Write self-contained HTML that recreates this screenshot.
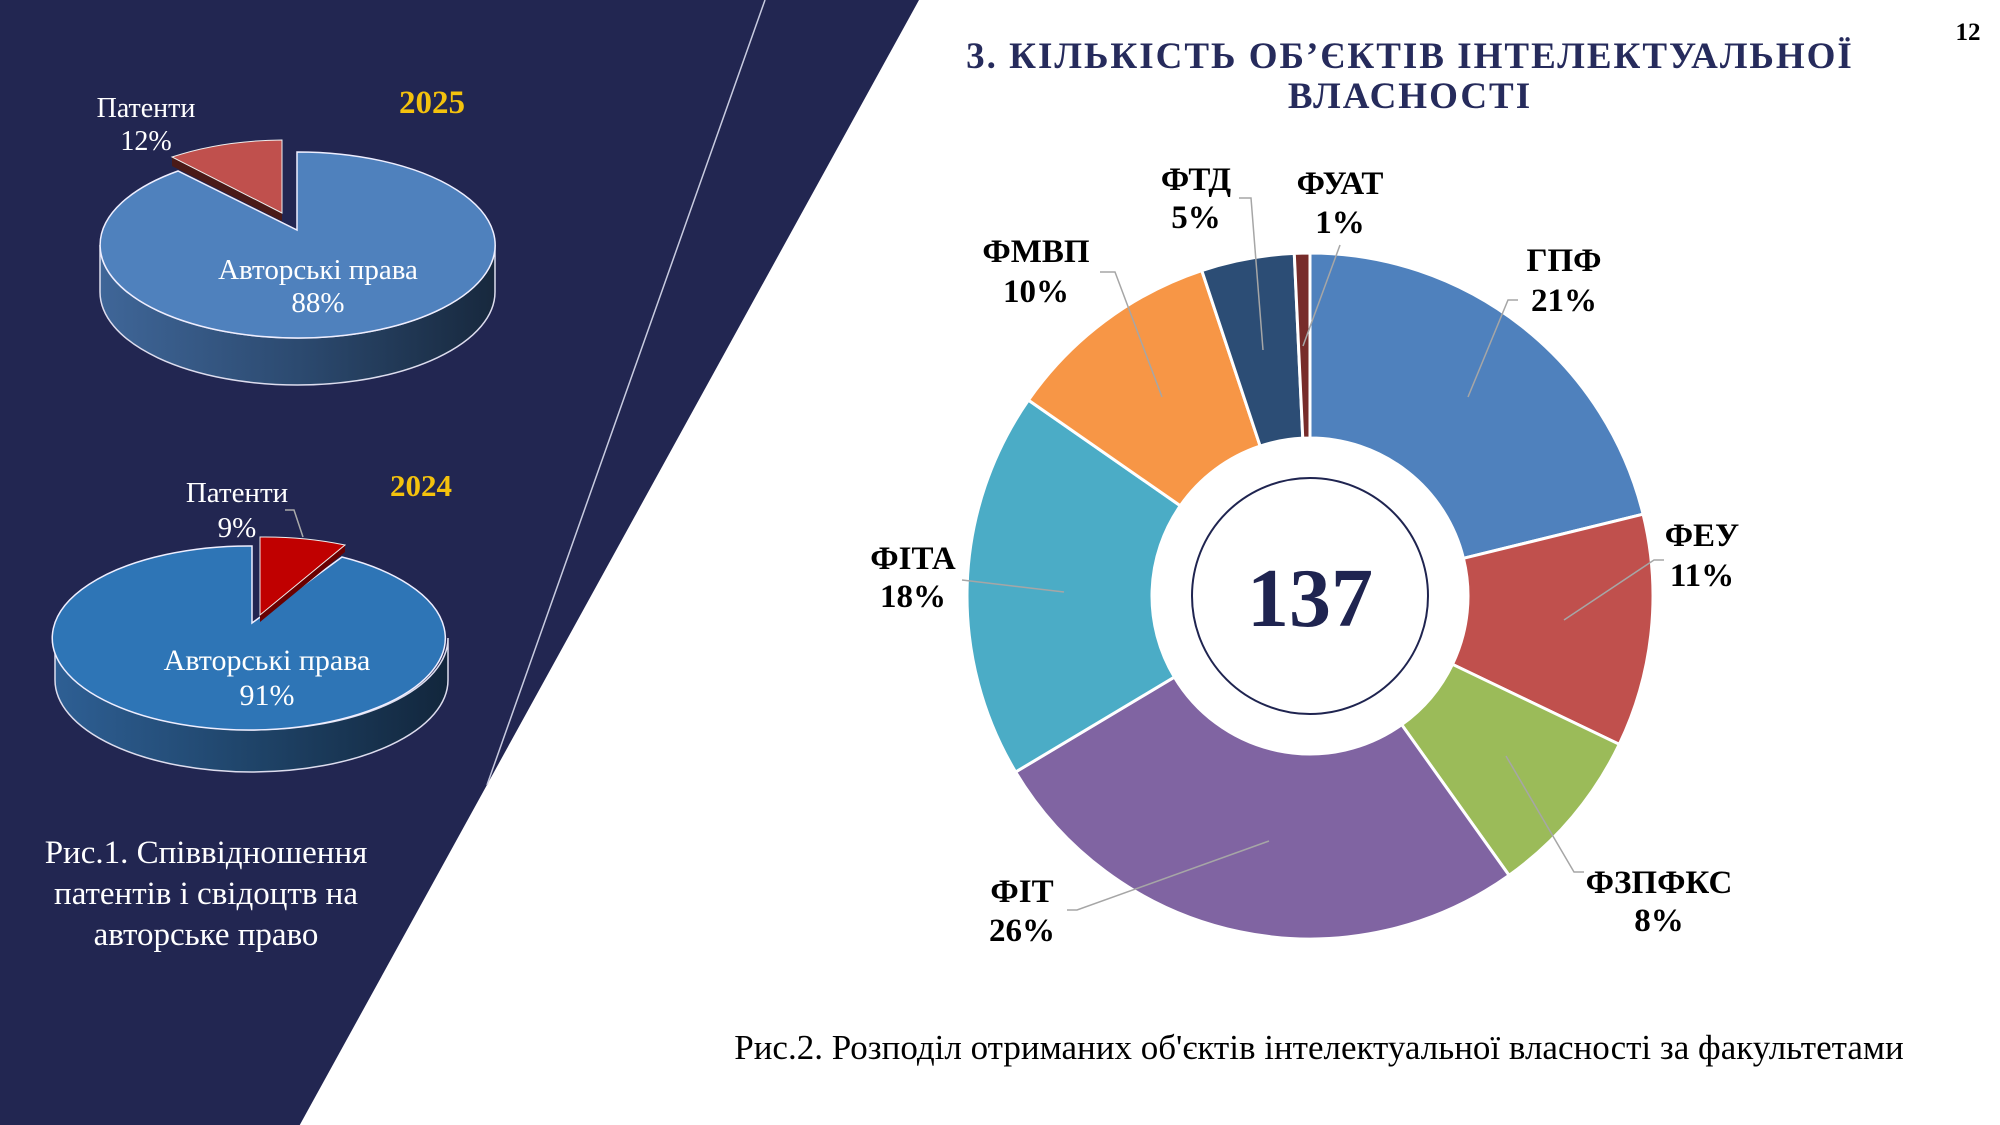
<!DOCTYPE html>
<html><head><meta charset="utf-8"><style>
html,body{margin:0;padding:0;background:#fff;}
body{width:2000px;height:1125px;overflow:hidden;position:relative;font-family:"Liberation Serif",serif;}
svg{position:absolute;left:0;top:0;}
</style></head><body>
<svg width="2000" height="1125" viewBox="0 0 2000 1125" xmlns="http://www.w3.org/2000/svg" font-family="Liberation Serif, serif">
<defs>
<linearGradient id="s1" x1="0" x2="1" y1="0" y2="0"><stop offset="0" stop-color="#3f6698"/><stop offset="0.5" stop-color="#2c4a70"/><stop offset="1" stop-color="#17283d"/></linearGradient>
<linearGradient id="s2" x1="0" x2="1" y1="0" y2="0"><stop offset="0" stop-color="#2e5f94"/><stop offset="0.5" stop-color="#1f4469"/><stop offset="1" stop-color="#12263c"/></linearGradient>
</defs>
<polygon points="0,0 919,0 297,1130 0,1130" fill="#222651"/>
<line x1="765" y1="0" x2="487" y2="785" stroke="#c8cbe0" stroke-width="1.5"/>

<!-- 2025 pie -->
<path d="M100,245 A197.5,93 0 0 0 495,245 L495,292 A197.5,93 0 0 1 100,292 Z" fill="url(#s1)" stroke="#dde" stroke-width="1.5"/>
<path d="M297,230 L297,152 A197.5,93 0 1 1 178,171 Z" fill="#4f81bd" stroke="#eef" stroke-width="1.5"/>
<path d="M172,157 L282,213 L282,221 L172,166 Z" fill="#4a1a18"/>
<path d="M282,213 L172,157 A197.5,93 0 0 1 282,140 Z" fill="#c0504d" stroke="#eee" stroke-width="1"/>
<text x="146" y="117" fill="#fff" font-size="28" text-anchor="middle">Патенти</text>
<text x="146" y="150" fill="#fff" font-size="28" text-anchor="middle">12%</text>
<text x="432" y="113" fill="#f4c20d" font-size="33" font-weight="bold" text-anchor="middle">2025</text>
<text x="318" y="279" fill="#fff" font-size="29" text-anchor="middle">Авторські права</text>
<text x="318" y="312" fill="#fff" font-size="29" text-anchor="middle">88%</text>

<!-- 2024 pie -->
<path d="M55,638 A196.5,92 0 0 0 448,638 L448,680 A196.5,92 0 0 1 55,680 Z" fill="url(#s2)" stroke="#dde" stroke-width="1.5"/>
<path d="M252,623 L342,557 A196.5,92 0 1 1 252,546 Z" fill="#2e75b6" stroke="#eef" stroke-width="1.5"/>
<path d="M260,615 L345,545 L345,552 L260,622 Z" fill="#6a0000"/>
<path d="M260,615 L260,537 A196.5,92 0 0 1 345,545 Z" fill="#c00000" stroke="#eee" stroke-width="1"/>
<polyline points="285,510 294,510 303,537" fill="none" stroke="#aaa" stroke-width="1.5"/>
<text x="237" y="502" fill="#fff" font-size="29" text-anchor="middle">Патенти</text>
<text x="237" y="537" fill="#fff" font-size="29" text-anchor="middle">9%</text>
<text x="421" y="496" fill="#f4c20d" font-size="31" font-weight="bold" text-anchor="middle">2024</text>
<text x="267" y="670" fill="#fff" font-size="30" text-anchor="middle">Авторські права</text>
<text x="267" y="705" fill="#fff" font-size="30" text-anchor="middle">91%</text>

<text x="206" y="863" fill="#fff" font-size="33" text-anchor="middle">Рис.1. Співвідношення</text>
<text x="206" y="904" fill="#fff" font-size="33" text-anchor="middle">патентів і свідоцтв на</text>
<text x="206" y="945" fill="#fff" font-size="33" text-anchor="middle">авторське право</text>

<!-- title -->
<text x="1410" y="68" fill="#262b5c" font-size="37" font-weight="bold" text-anchor="middle" letter-spacing="2">3. КІЛЬКІСТЬ ОБ’ЄКТІВ ІНТЕЛЕКТУАЛЬНОЇ</text>
<text x="1410" y="108" fill="#262b5c" font-size="37" font-weight="bold" text-anchor="middle" letter-spacing="2">ВЛАСНОСТІ</text>
<text x="1968" y="40" fill="#000" font-size="25" font-weight="bold" text-anchor="middle">12</text>

<g id="donut"></g>
<circle cx="1310" cy="596" r="118" fill="#fff" stroke="#1f2450" stroke-width="2"/>
<text x="1310" y="626" fill="#1f2450" font-size="84" font-weight="bold" text-anchor="middle">137</text>

<g fill="none" stroke="#a6a6a6" stroke-width="1.5">
<polyline points="1468,397 1508,300 1518,300"/>
<polyline points="1564,620 1654,560 1664,560"/>
<polyline points="1506,756 1574,872 1584,872"/>
<polyline points="1269,841 1077,910 1067,910"/>
<polyline points="1064,592 962,580"/>
<polyline points="1162,397 1115,272 1100,272"/>
<polyline points="1263,350 1251,198 1239,198"/>
<polyline points="1303,346 1340,245"/>
</g>
<g font-size="33" font-weight="bold" fill="#000" text-anchor="middle">
<text x="1564" y="271">ГПФ</text><text x="1564" y="311">21%</text>
<text x="1702" y="546">ФЕУ</text><text x="1702" y="586">11%</text>
<text x="1659" y="893">ФЗПФКС</text><text x="1659" y="931">8%</text>
<text x="1022" y="902">ФІТ</text><text x="1022" y="941">26%</text>
<text x="913" y="569">ФІТА</text><text x="913" y="607">18%</text>
<text x="1036" y="262">ФМВП</text><text x="1036" y="302">10%</text>
<text x="1196" y="190">ФТД</text><text x="1196" y="228">5%</text>
<text x="1340" y="194">ФУАТ</text><text x="1340" y="233">1%</text>
</g>
<text x="1319" y="1059" fill="#000" font-size="35" text-anchor="middle">Рис.2. Розподіл отриманих об'єктів інтелектуальної власності за факультетами</text>
</svg>
<script>
(function(){
var vals=[29,15,11,36,25,14,6,1],cols=["#4f81bd","#c0504d","#9bbb59","#8064a2","#4bacc6","#f79646","#2c4d75","#772c2a"];
var cx=1310,cy=596,R=343,r=158,tot=137,a=0,g=document.getElementById('donut'),s='';
function p(rad,ang){return [(cx+rad*Math.sin(ang)).toFixed(2),(cy-rad*Math.cos(ang)).toFixed(2)];}
for(var i=0;i<vals.length;i++){var a2=a+vals[i]/tot*2*Math.PI,l=(a2-a)>Math.PI?1:0;
var p1=p(R,a),p2=p(R,a2),p3=p(r,a2),p4=p(r,a);
s+='<path d="M'+p1+' A'+R+','+R+' 0 '+l+' 1 '+p2+' L'+p3+' A'+r+','+r+' 0 '+l+' 0 '+p4+' Z" fill="'+cols[i]+'" stroke="#fff" stroke-width="3"/>';a=a2;}
g.innerHTML=s;})();
</script>
</body></html>
